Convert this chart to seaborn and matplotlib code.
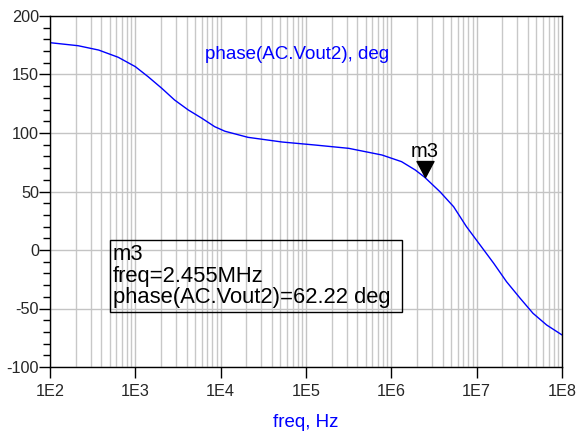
import numpy as np
import pandas as pd
import matplotlib
matplotlib.use("Agg")
import matplotlib.pyplot as plt
import seaborn as sns
from matplotlib.ticker import LogLocator, FixedLocator, MultipleLocator, NullFormatter
from matplotlib.path import Path
from matplotlib.patches import Rectangle

# data (log10 of frequency in Hz, phase in degrees)
log_freq = [2.0, 2.33, 2.57, 2.80, 3.0, 3.15, 3.31, 3.46, 3.62, 3.78, 3.93, 4.05,
            4.32, 4.72, 5.11, 5.50, 5.89, 6.12, 6.28, 6.39, 6.57, 6.73, 6.88, 7.04,
            7.20, 7.35, 7.51, 7.66, 7.82, 8.0]
phase_deg = [177.2, 174.6, 170.9, 164.7, 156.7, 148.1, 138.2, 128.2, 119.7, 112.6, 105.4, 101.5,
             96.3, 92.3, 89.7, 86.9, 81.2, 75.5, 68.4, 62.22, 49.8, 37.0, 20.0, 4.3,
             -11.4, -27.1, -41.3, -54.1, -64.1, -72.6]
marker_name = "m3"
marker_freq = 2.455e6
marker_phase = 62.22
x_tick_vals = [1e2, 1e3, 1e4, 1e5, 1e6, 1e7, 1e8]
x_tick_labels = ["1E2", "1E3", "1E4", "1E5", "1E6", "1E7", "1E8"]
y_tick_vals = [-100, -50, 0, 50, 100, 150, 200]

df = pd.DataFrame({"freq": np.power(10.0, log_freq), "phase": phase_deg})

sns.set_style("white")
plt.rcParams["font.family"] = ["Liberation Sans", "DejaVu Sans"]
plt.rcParams["axes.unicode_minus"] = False

fig = plt.figure(figsize=(5.85, 4.32), dpi=100)
ax = fig.add_axes([50 / 585, 1 - 367 / 432, 512 / 585, 351 / 432])

ax.set_xscale("log")
sns.lineplot(data=df, x="freq", y="phase", ax=ax, color="#0000ff", linewidth=1.0)

ax.set_xlim(1e2, 1e8)
ax.set_ylim(-100, 200)

ax.set_xticks(x_tick_vals)
ax.set_xticklabels(x_tick_labels)
ax.xaxis.set_minor_locator(LogLocator(base=10, subs=np.arange(2, 10)))
ax.xaxis.set_minor_formatter(NullFormatter())
ax.set_yticks(y_tick_vals)
ax.yaxis.set_minor_locator(MultipleLocator(10))

ax.grid(which="major", axis="both", color="#c4c4c4", linewidth=1.0)
ax.grid(which="minor", axis="x", color="#c8c8c8", linewidth=1.0)
ax.set_axisbelow(True)

ax.tick_params(axis="x", which="major", direction="out", length=8, width=1, color="black",
               labelsize=11.7, pad=4, bottom=True)
ax.tick_params(axis="x", which="minor", length=0, bottom=False)
ax.tick_params(axis="y", which="major", direction="out", length=8, width=1, color="black",
               labelsize=11.7, pad=0, left=True)
ax.tick_params(axis="y", which="minor", direction="out", length=5, width=1, color="black", left=True)

for s in ax.spines.values():
    s.set_color("black")
    s.set_linewidth(1.0)

ax.set_xlabel("freq, Hz", color="#0000ff", fontsize=13.5, labelpad=11)
ax.set_ylabel("")

ax.text(0.483, 0.889, "phase(AC.Vout2), deg", transform=ax.transAxes, color="#0000ff",
        fontsize=13.5, ha="center", va="center")

# marker triangle with tip at the data point
tri = Path([(-0.53, 1.0), (0.53, 1.0), (0.0, 0.0), (-0.53, 1.0)],
           [Path.MOVETO, Path.LINETO, Path.LINETO, Path.CLOSEPOLY])
ax.plot([marker_freq], [marker_phase], marker=tri, markersize=23, color="black",
        linestyle="none", zorder=5)
ax.annotate(marker_name, (marker_freq, marker_phase), xytext=(0, 14.5), textcoords="offset points",
            ha="center", va="baseline", fontsize=14.5, color="black")

# marker readout box
bx0 = (110 - 50) / 512
by0 = (367 - 312) / 351
bw = (402 - 110) / 512
bh = (312 - 240) / 351
ax.add_patch(Rectangle((bx0, by0), bw, bh, transform=ax.transAxes, facecolor="none",
                       edgecolor="black", linewidth=1.0, zorder=4))
lines = [marker_name, "freq=2.455MHz", "phase(AC.Vout2)=%.2f deg" % marker_phase]
baselines = [260, 282, 303.5]
for txt, yb in zip(lines, baselines):
    ax.text((113 - 50) / 512, (367 - yb) / 351, txt, transform=ax.transAxes,
            ha="left", va="baseline", fontsize=15.8, color="black", zorder=5)

fig.savefig("out.png", dpi=100)
